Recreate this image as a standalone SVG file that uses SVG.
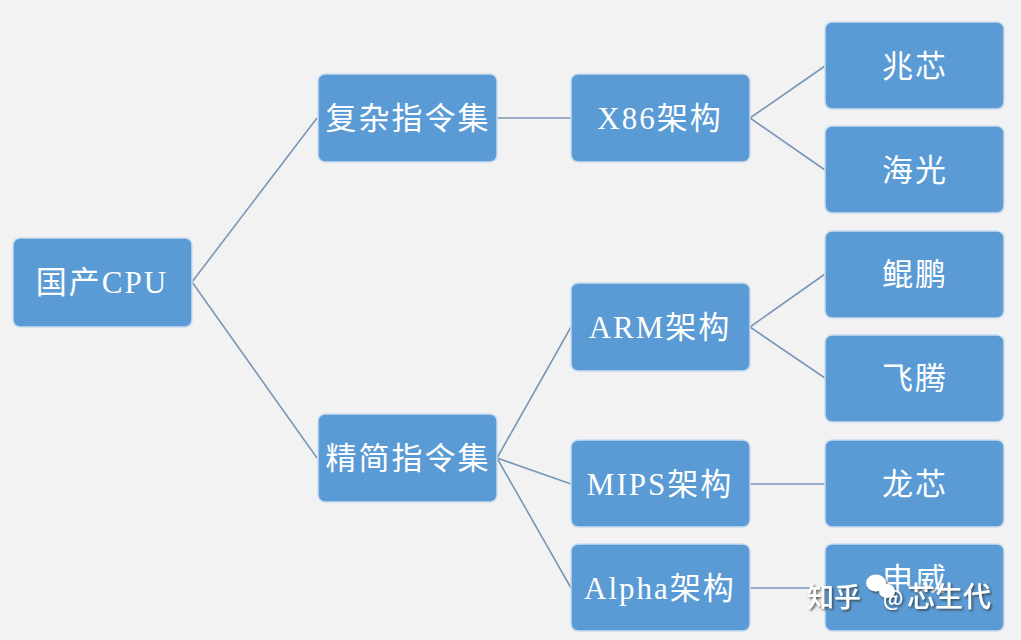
<svg xmlns="http://www.w3.org/2000/svg" width="1021" height="640" viewBox="0 0 1021 640">
<defs>
<style>
.n rect{fill:#5b9bd5;stroke:#c9dcf0;stroke-width:1.5}
.n text{fill:#ffffff;font-family:"Liberation Serif","Noto Sans CJK SC",serif;font-size:31px;text-anchor:middle;letter-spacing:2px}
.c line{stroke:#7896b8;stroke-width:1.6}
.wm{font-family:"Noto Sans CJK SC","Liberation Sans",sans-serif;fill:#ffffff;font-weight:500}
</style>
<filter id="sh" x="-10%" y="-20%" width="130%" height="150%">
<feDropShadow dx="1.5" dy="1.5" stdDeviation="1" flood-color="#333" flood-opacity="0.8"/>
</filter>
</defs>
<rect width="1021" height="640" fill="#f2f2f2"/>
<g class="c" id="connectors">
<line x1="192" y1="282" x2="317" y2="118"/>
<line x1="192" y1="282" x2="317" y2="458"/>
<line x1="497" y1="118" x2="571" y2="118"/>
<line x1="750" y1="118" x2="825" y2="66"/>
<line x1="750" y1="118" x2="825" y2="170"/>
<line x1="497" y1="458" x2="571" y2="327"/>
<line x1="497" y1="458" x2="571" y2="484"/>
<line x1="497" y1="458" x2="571" y2="588"/>
<line x1="750" y1="327" x2="825" y2="274"/>
<line x1="750" y1="327" x2="825" y2="378"/>
<line x1="750" y1="484" x2="825" y2="484"/>
<line x1="750" y1="588" x2="825" y2="588"/>
</g>
<g class="n" id="n-cpu"><rect x="13" y="238" width="179" height="89" rx="7"/><text x="102" y="293">国产CPU</text></g>
<g class="n" id="n-cisc"><rect x="318" y="74" width="179" height="88" rx="7"/><text x="408" y="129">复杂指令集</text></g>
<g class="n" id="n-risc"><rect x="318" y="414" width="179" height="88" rx="7"/><text x="408" y="469">精简指令集</text></g>
<g class="n" id="n-x86"><rect x="571" y="74" width="179" height="88" rx="7"/><text x="660" y="129">X86架构</text></g>
<g class="n" id="n-arm"><rect x="571" y="283" width="179" height="88" rx="7"/><text x="660" y="338">ARM架构</text></g>
<g class="n" id="n-mips"><rect x="571" y="440" width="179" height="87" rx="7"/><text x="660" y="495">MIPS架构</text></g>
<g class="n" id="n-alpha"><rect x="571" y="544" width="179" height="87" rx="7"/><text x="660" y="599">Alpha架构</text></g>
<g class="n" id="n-zx"><rect x="825" y="22" width="179" height="87" rx="7"/><text x="915" y="77">兆芯</text></g>
<g class="n" id="n-hg"><rect x="825" y="126" width="179" height="87" rx="7"/><text x="915" y="181">海光</text></g>
<g class="n" id="n-kp"><rect x="825" y="231" width="179" height="87" rx="7"/><text x="915" y="285">鲲鹏</text></g>
<g class="n" id="n-ft"><rect x="825" y="335" width="179" height="87" rx="7"/><text x="915" y="389">飞腾</text></g>
<g class="n" id="n-lx"><rect x="825" y="440" width="179" height="87" rx="7"/><text x="915" y="495">龙芯</text></g>
<g class="n" id="n-sw"><rect x="825" y="544" width="179" height="87" rx="7"/><text x="915" y="590">申威</text></g>
<g id="watermark" filter="url(#sh)">
<text class="wm" x="807" y="607" font-size="27">知乎</text>
<ellipse cx="876" cy="583" rx="10" ry="8.5" fill="#ffffff"/>
<ellipse cx="887" cy="591" rx="8" ry="7" fill="#ffffff"/>
<text class="wm" x="883" y="606" font-size="21">@</text>
<text class="wm" x="907" y="607" font-size="28">芯生代</text>
</g>
</svg>
